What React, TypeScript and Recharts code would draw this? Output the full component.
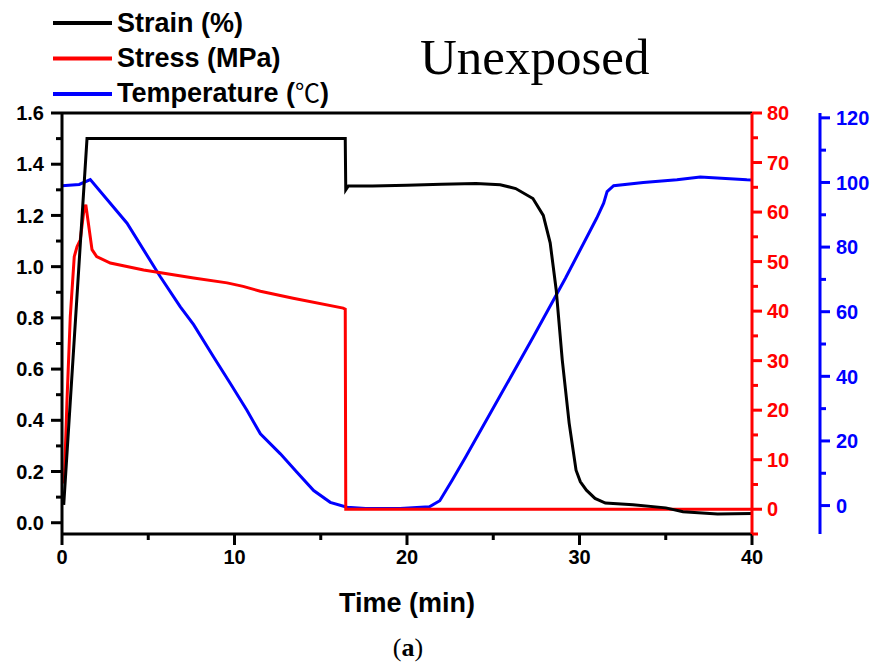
import { Line, LineChart, ReferenceLine, XAxis, YAxis } from "recharts";

// Strain (%) — left axis
const strainTime = [0.1, 1.45, 16.42, 16.45, 16.6, 18, 20, 22, 24, 25.4, 26.3, 27.3, 27.9, 28.3, 28.65, 29.0, 29.4, 29.8, 30.05, 30.4, 30.9, 31.5, 33.1, 35, 36, 38, 40];
const strainValues = [0.07, 1.5, 1.5, 1.3, 1.315, 1.315, 1.318, 1.322, 1.325, 1.32, 1.305, 1.266, 1.2, 1.093, 0.909, 0.636, 0.389, 0.205, 0.16, 0.127, 0.095, 0.077, 0.07, 0.058, 0.043, 0.034, 0.036];

// Stress (MPa) — red axis
const stressTime = [0.13, 0.29, 0.48, 0.71, 0.87, 1.06, 1.25, 1.38, 1.74, 2.01, 2.8, 4.73, 7.63, 9.57, 10.5, 11.5, 13.4, 16.3, 16.42, 16.45, 40];
const stressValues = [5.2, 22, 38.9, 51, 53, 54.4, 59.8, 61.5, 52.4, 51, 49.7, 48.3, 46.7, 45.7, 45, 44, 42.6, 40.6, 40.4, 0, 0];

// Temperature (℃) — blue axis
const tempTime = [0, 1.0, 1.64, 3.77, 5.7, 6.86, 7.63, 8.79, 9.76, 10.72, 11.5, 12.66, 13.62, 14.59, 15.55, 16.52, 17.6, 19.6, 21.3, 21.9, 22.6, 23.4, 25.35, 27.3, 29.2, 31.0, 31.4, 31.6, 31.98, 33.7, 35.65, 37, 39.7, 40];
const tempValues = [99.0, 99.4, 100.9, 87.4, 70.8, 61.5, 56.0, 46.0, 37.8, 29.5, 22.2, 16.0, 10.3, 4.65, 1.0, -0.5, -0.9, -0.9, -0.4, 1.5, 7.7, 15, 33.5, 52, 70.5, 89, 93.6, 97.2, 99.0, 100.0, 100.85, 101.7, 100.85, 100.8];

const timeTicks = [0, 5, 10, 15, 20, 25, 30, 35, 40];
const timeLabels = [0, 10, 20, 30, 40];
const strainTicks = [0, 0.1, 0.2, 0.3, 0.4, 0.5, 0.6, 0.7, 0.8, 0.9, 1.0, 1.1, 1.2, 1.3, 1.4, 1.5, 1.6];
const strainLabels = [0, 0.2, 0.4, 0.6, 0.8, 1.0, 1.2, 1.4, 1.6];
const stressTicks = [-5, 0, 5, 10, 15, 20, 25, 30, 35, 40, 45, 50, 55, 60, 65, 70, 75, 80];
const stressLabels = [0, 10, 20, 30, 40, 50, 60, 70, 80];
const tempTicks = [0, 10, 20, 30, 40, 50, 60, 70, 80, 90, 100, 110, 120];
const tempLabels = [0, 20, 40, 60, 80, 100, 120];

const seriesNames = ["Strain (%)", "Stress (MPa)", "Temperature ("];
const seriesSuffix = ["", "", "\u2103"];
const seriesColors = ["#000000", "#ff0000", "#0000ff"];

const strainData = strainTime.map((t, i) => ({ t, v: strainValues[i] }));
const stressData = stressTime.map((t, i) => ({ t, v: stressValues[i] }));
const tempData = tempTime.map((t, i) => ({ t, v: tempValues[i] }));

const SANS = "'Liberation Sans', Arial, sans-serif";
const SERIF = "'Liberation Serif', 'Times New Roman', serif";
const CJK = "'Noto Sans CJK SC', sans-serif";

const TimeTick = ({ x, y, payload }: any) => {
  const major = timeLabels.includes(payload.value);
  return (
    <g>
      <line x1={x} x2={x} y1={y} y2={y + (major ? 11 : 6)} stroke="#000" strokeWidth={3} />
      {major && (
        <text x={x} y={y + 30} textAnchor="middle" fontFamily={SANS} fontWeight="bold" fontSize={20} fill="#000">
          {payload.value}
        </text>
      )}
    </g>
  );
};

const StrainTick = ({ x, y, payload }: any) => {
  const major = strainLabels.includes(payload.value);
  return (
    <g>
      <line x1={x} x2={x - (major ? 11 : 6)} y1={y} y2={y} stroke="#000" strokeWidth={3} />
      {major && (
        <text x={x - 18} y={y} dy="0.36em" textAnchor="end" fontFamily={SANS} fontWeight="bold" fontSize={20} fill="#000">
          {payload.value.toFixed(1)}
        </text>
      )}
    </g>
  );
};

const rightTick = (labels: number[], color: string, gap: number) => ({ x, y, payload }: any) => {
  const major = labels.includes(payload.value);
  return (
    <g>
      <line x1={x} x2={x + (major ? 10 : 6)} y1={y} y2={y} stroke={color} strokeWidth={3} />
      {major && (
        <text x={x + gap} y={y} dy="0.36em" textAnchor="start" fontFamily={SANS} fontWeight="bold" fontSize={20} fill={color}>
          {payload.value}
        </text>
      )}
    </g>
  );
};

const StressTick = rightTick(stressLabels, "#ff0000", 15);
const TempTick = rightTick(tempLabels, "#0000ff", 16);

function App() {
  return (
    <div style={{ position: "absolute", left: 0, top: 0, width: 874, height: 670, background: "#fff" }}>
      <LineChart width={874} height={670} margin={{ top: 113, right: 0, bottom: 96, left: 0 }}>
        <XAxis
          type="number"
          dataKey="t"
          domain={[0, 40]}
          ticks={timeTicks}
          interval={0}
          height={40}
          tickSize={0}
          tickMargin={0}
          tickLine={false}
          axisLine={{ stroke: "#000", strokeWidth: 3 }}
          tick={(p: any) => <TimeTick {...p} />}
        />
        <YAxis
          yAxisId="strain"
          orientation="left"
          type="number"
          domain={[-0.044, 1.6]}
          ticks={strainTicks}
          interval={0}
          width={62}
          tickSize={0}
          tickMargin={0}
          tickLine={false}
          axisLine={{ stroke: "#000", strokeWidth: 3 }}
          tick={(p: any) => <StrainTick {...p} />}
        />
        <YAxis
          yAxisId="stress"
          orientation="right"
          type="number"
          domain={[-5, 80]}
          ticks={stressTicks}
          interval={0}
          width={68}
          tickSize={0}
          tickMargin={0}
          tickLine={false}
          axisLine={{ stroke: "#ff0000", strokeWidth: 3 }}
          tick={(p: any) => <StressTick {...p} />}
        />
        <YAxis
          yAxisId="temp"
          orientation="right"
          type="number"
          domain={[-8.8, 121.5]}
          ticks={tempTicks}
          interval={0}
          width={54}
          tickSize={0}
          tickMargin={0}
          tickLine={false}
          axisLine={{ stroke: "#0000ff", strokeWidth: 3 }}
          tick={(p: any) => <TempTick {...p} />}
        />
        <ReferenceLine yAxisId="strain" y={1.6} stroke="#000" strokeWidth={3} />
        <Line yAxisId="temp" data={tempData} dataKey="v" type="linear" stroke={seriesColors[2]} strokeWidth={3} dot={false} isAnimationActive={false} />
        <Line yAxisId="stress" data={stressData} dataKey="v" type="linear" stroke={seriesColors[1]} strokeWidth={3} dot={false} isAnimationActive={false} />
        <Line yAxisId="strain" data={strainData} dataKey="v" type="linear" stroke={seriesColors[0]} strokeWidth={3} dot={false} isAnimationActive={false} />
      </LineChart>
      <svg width={874} height={670} style={{ position: "absolute", left: 0, top: 0, pointerEvents: "none" }}>
        {seriesNames.map((name, i) => (
          <g key={name}>
            <line x1={53} x2={112} y1={23 + i * 35.5} y2={23 + i * 35.5} stroke={seriesColors[i]} strokeWidth={4} />
            <text x={117} y={32 + i * 35} fontFamily={SANS} fontWeight="bold" fontSize={27} fill="#000">
              {name}
              {seriesSuffix[i] && (
                <>
                  <tspan fontFamily={CJK} fontWeight="normal" fontSize={25}>{seriesSuffix[i]}</tspan>
                  <tspan>)</tspan>
                </>
              )}
            </text>
          </g>
        ))}
        <text x={420} y={74} fontFamily={SERIF} fontSize={51} fill="#000">
          Unexposed
        </text>
        <text x={407} y={612} textAnchor="middle" fontFamily={SANS} fontWeight="bold" fontSize={27} fill="#000">
          Time (min)
        </text>
        <text x={408} y={656} textAnchor="middle" fontFamily={SERIF} fontSize={26} fill="#000">
          (<tspan fontWeight="bold">a</tspan>)
        </text>
      </svg>
    </div>
  );
}

export default App;
